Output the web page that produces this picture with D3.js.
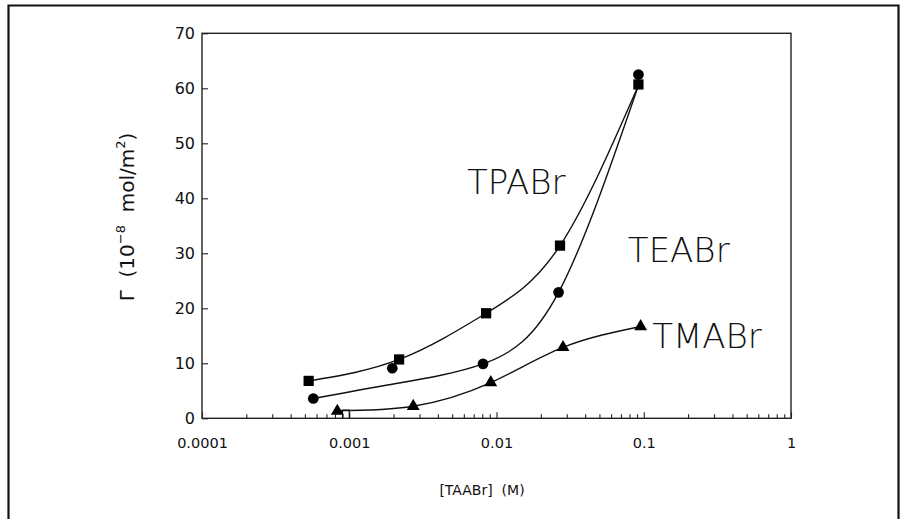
<!DOCTYPE html>
<html>
<head>
<meta charset="utf-8">
<script src="https://cdn.jsdelivr.net/npm/d3@7"></script>
<style>
  html, body { margin: 0; padding: 0; background: #fff; }
  svg { display: block; }
  text { font-family: "DejaVu Sans", "Liberation Sans", sans-serif; fill: #111; }
</style>
</head>
<body>
<svg id="chart" width="901" height="519"></svg>
<script>
// Adsorbed amount of tetraalkylammonium bromides vs. concentration
const xTicks = [0.0001, 0.001, 0.01, 0.1, 1];
const xTickLabels = ["0.0001", "0.001", "0.01", "0.1", "1"];
const yTicks = [0, 10, 20, 30, 40, 50, 60, 70];

// measured points (concentration in M, adsorption in 1e-8 mol/m2)
const tpabrConc = [0.00053, 0.00218, 0.0085, 0.027, 0.092];
const tpabrGamma = [6.8, 10.7, 19.1, 31.4, 60.7];
const teabrConc = [0.00057, 0.00196, 0.0081, 0.0264, 0.092];
const teabrGamma = [3.6, 9.1, 9.9, 22.9, 62.5];
const tmabrConc = [0.00083, 0.00272, 0.00914, 0.0283, 0.0953];
const tmabrGamma = [1.3, 2.2, 6.5, 12.9, 16.7];

// fitted curves
const tpabrFitConc = [0.00053, 0.00218, 0.0085, 0.027, 0.092];
const tpabrFitGamma = [6.8, 10.7, 19.1, 31.4, 60.5];
const teabrFitConc = [0.00057, 0.00196, 0.0081, 0.0264, 0.092];
const teabrFitGamma = [3.6, 6.2, 9.9, 22.9, 60.5];
const tmabrFitConc = [0.00083, 0.00272, 0.00914, 0.0283, 0.0953];
const tmabrFitGamma = [1.4, 2.2, 6.5, 12.9, 16.7];
// small bracket drawn next to the first TMABr point
const tmabrStubConc = [0.0009, 0.0009, 0.001, 0.001];
const tmabrStubGamma = [0, 1.5, 1.5, 0];

const seriesNames = ["TPABr", "TEABr", "TMABr"];
const labelConc = [0.0063, 0.078, 0.114];
const labelGamma = [40.8, 28.4, 12.8];

(function draw() {
  const svg = d3.select("#chart");
  const pLeft = 202, pRight = 791, pTop = 33.3, pBottom = 418.3;

  const x = d3.scaleLog().domain([1e-4, 1]).range([pLeft, pRight]);
  const y = d3.scaleLinear().domain([0, 70]).range([pBottom, pTop]);

  // outer frame (open at the bottom)
  svg.append("path")
    .attr("d", "M8.5,519 L8.5,5.5 L898.5,5.5 L898.5,519")
    .attr("fill", "none").attr("stroke", "#111").attr("stroke-width", 2.2);

  // plot box
  svg.append("rect")
    .attr("x", pLeft).attr("y", pTop)
    .attr("width", pRight - pLeft).attr("height", pBottom - pTop)
    .attr("fill", "none").attr("stroke", "#222").attr("stroke-width", 1.4);

  // x axis: minor ticks, decade ticks with labels
  const minor = x.ticks().filter(v => !xTicks.some(t => Math.abs(t - v) / t < 1e-9));
  const gxMinor = svg.append("g").attr("transform", `translate(0,${pBottom})`)
    .call(d3.axisBottom(x).tickValues(minor).tickSize(-4).tickFormat(""));
  const gx = svg.append("g").attr("transform", `translate(0,${pBottom})`)
    .call(d3.axisBottom(x).tickValues(xTicks).tickSize(-6).tickPadding(19)
      .tickFormat((d, i) => xTickLabels[i]));
  [gxMinor, gx].forEach(g => {
    g.select(".domain").remove();
    g.selectAll("line").attr("stroke", "#222").attr("stroke-width", 1.1);
  });
  gx.selectAll("text").attr("font-size", 14.5).style("fill", "#111");

  // y axis
  const gy = svg.append("g").attr("transform", `translate(${pLeft},0)`)
    .call(d3.axisLeft(y).tickValues(yTicks).tickSize(-6).tickPadding(7));
  gy.select(".domain").remove();
  gy.selectAll("line").attr("stroke", "#222").attr("stroke-width", 1.1);
  gy.selectAll("text").attr("font-size", 16).style("fill", "#111");
  [gx, gy, gxMinor].forEach(g => g.attr("font-family", null));

  // axis titles
  svg.append("text")
    .attr("x", 482).attr("y", 495)
    .attr("text-anchor", "middle").attr("font-size", 14)
    .attr("xml:space", "preserve")
    .text("[TAABr]  (M)");

  const yTitle = svg.append("text")
    .attr("transform", "translate(134,217) rotate(-90)")
    .attr("text-anchor", "middle").attr("font-size", 20)
    .attr("xml:space", "preserve");
  yTitle.append("tspan").text("Γ  (10");
  yTitle.append("tspan").attr("font-size", 13).attr("dy", -9).text("−8");
  yTitle.append("tspan").attr("dy", 9).text("  mol/m");
  yTitle.append("tspan").attr("font-size", 13).attr("dy", -9).text("2");
  yTitle.append("tspan").attr("dy", 9).text(")");

  // curves
  const line = d3.line().x(d => x(d[0])).y(d => y(d[1])).curve(d3.curveNatural);
  const fits = [
    d3.zip(tpabrFitConc, tpabrFitGamma),
    d3.zip(teabrFitConc, teabrFitGamma),
    d3.zip(tmabrFitConc, tmabrFitGamma)
  ];
  svg.append("g").selectAll("path").data(fits).join("path")
    .attr("d", line).attr("fill", "none")
    .attr("stroke", "#111").attr("stroke-width", 1.4);

  svg.append("path")
    .attr("d", d3.line().x(d => x(d[0])).y(d => y(d[1]))(d3.zip(tmabrStubConc, tmabrStubGamma)))
    .attr("fill", "none").attr("stroke", "#111").attr("stroke-width", 1.2);

  // markers
  const tp = d3.zip(tpabrConc, tpabrGamma);
  const te = d3.zip(teabrConc, teabrGamma);
  const tm = d3.zip(tmabrConc, tmabrGamma);
  svg.append("g").selectAll("path").data(tp).join("path")
    .attr("transform", d => `translate(${x(d[0])},${y(d[1])})`)
    .attr("d", d3.symbol(d3.symbolSquare, 105)).attr("fill", "#000");
  svg.append("g").selectAll("path").data(te).join("path")
    .attr("transform", d => `translate(${x(d[0])},${y(d[1])})`)
    .attr("d", d3.symbol(d3.symbolCircle, 90)).attr("fill", "#000");
  svg.append("g").selectAll("path").data(tm).join("path")
    .attr("transform", d => `translate(${x(d[0])},${y(d[1])})`)
    .attr("d", d3.symbol(d3.symbolTriangle, 72)).attr("fill", "#000");

  // series labels
  svg.append("g").selectAll("text").data(seriesNames).join("text")
    .attr("x", (d, i) => x(labelConc[i]))
    .attr("y", (d, i) => y(labelGamma[i]))
    .attr("font-size", 34).attr("font-weight", 200)
    .text(d => d);
})();
</script>
</body>
</html>
